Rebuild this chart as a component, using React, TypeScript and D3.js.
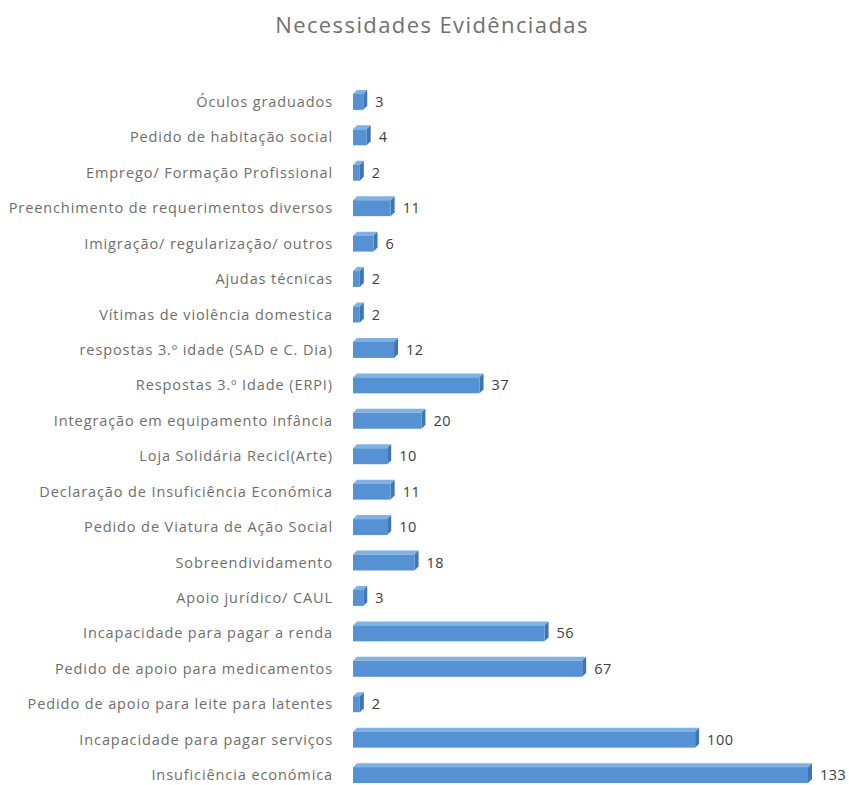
import React from "react";
import * as d3 from "d3";

const categories = [
  "Óculos graduados",
  "Pedido de habitação social",
  "Emprego/ Formação Profissional",
  "Preenchimento de requerimentos diversos",
  "Imigração/ regularização/ outros",
  "Ajudas técnicas",
  "Vítimas de violência domestica",
  "respostas 3.º idade (SAD e C. Dia)",
  "Respostas 3.º Idade (ERPI)",
  "Integração em equipamento infância",
  "Loja Solidária Recicl(Arte)",
  "Declaração de Insuficiência Económica",
  "Pedido de Viatura de Ação Social",
  "Sobreendividamento",
  "Apoio jurídico/ CAUL",
  "Incapacidade para pagar a renda",
  "Pedido de apoio para medicamentos",
  "Pedido de apoio para leite para latentes",
  "Incapacidade para pagar serviços",
  "Insuficiência económica",
];
const values = [3, 4, 2, 11, 6, 2, 2, 12, 37, 20, 10, 11, 10, 18, 3, 56, 67, 2, 100, 133];

const W = 849;
const H = 785;

export default function App() {
  const x = d3.scaleLinear().domain([0, 133]).range([353, 808]);
  const y = d3
    .scaleBand<string>()
    .domain(categories)
    .range([84, 793])
    .paddingInner(0.55)
    .paddingOuter(0.28);
  const bh = y.bandwidth();
  const depth = 4;
  return (
    <svg
      width={W}
      height={H}
      style={{ position: "absolute", left: 0, top: 0, background: "#fff" }}
      fontFamily="'Open Sans', 'DejaVu Sans', sans-serif"
    >
      <text
        x={432}
        y={33}
        textAnchor="middle"
        fontSize={22}
        letterSpacing={1.4}
        fill="#707070"
      >
        Necessidades Evidênciadas
      </text>
      {categories.map((c, i) => {
        const y0 = y(c)!;
        const x0 = x(0);
        const x1 = x(values[i]);
        const cy = y0 + bh / 2;
        return (
          <g key={c}>
            <text
              x={333}
              y={cy}
              dy="0.35em"
              textAnchor="end"
              fontSize={14.5}
              letterSpacing={0.9}
              fill="#6e6e6e"
            >
              {c}
            </text>
            <polygon
              points={`${x0 + depth},${y0 - depth} ${x1 + depth},${y0 - depth} ${x1},${y0} ${x0},${y0}`}
              fill="#7fb1e3"
            />
            <polygon
              points={`${x1},${y0} ${x1 + depth},${y0 - depth} ${x1 + depth},${y0 + bh - depth} ${x1},${y0 + bh}`}
              fill="#3f77b5"
            />
            <rect x={x0} y={y0} width={x1 - x0} height={bh} fill="#5591d3" />
            <text
              x={x1 + depth + 8}
              y={cy}
              dy="0.35em"
              fontSize={14.5}
              letterSpacing={0.5}
              fill="#404040"
            >
              {values[i]}
            </text>
          </g>
        );
      })}
    </svg>
  );
}
